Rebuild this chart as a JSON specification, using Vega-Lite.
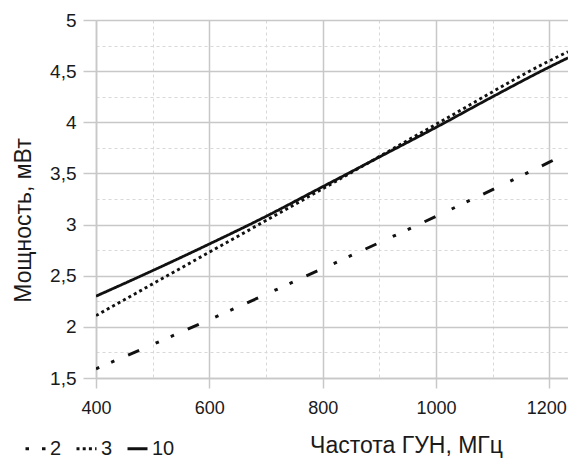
{
  "$schema": "https://vega.github.io/schema/vega-lite/v6.json",
  "width": 472,
  "height": 358,
  "autosize": {"type": "none"},
  "padding": {"left": 96, "top": 20, "right": 0, "bottom": 81},
  "background": "white",
  "config": {
    "view": {"stroke": null},
    "font": "Liberation Sans",
    "axis": {"labelFont": "Liberation Sans", "titleFont": "Liberation Sans"},
    "legend": {"labelFont": "Liberation Sans"}
  },
  "data": {
    "values": [
      {"s": "2", "f": 400, "p": 1.59},
      {"s": "2", "f": 600, "p": 2.07},
      {"s": "2", "f": 800, "p": 2.57},
      {"s": "2", "f": 1000, "p": 3.08},
      {"s": "2", "f": 1200, "p": 3.61},
      {"s": "2", "f": 1233, "p": 3.70},
      {"s": "3", "f": 400, "p": 2.11},
      {"s": "3", "f": 600, "p": 2.73},
      {"s": "3", "f": 800, "p": 3.35},
      {"s": "3", "f": 1000, "p": 3.98},
      {"s": "3", "f": 1200, "p": 4.60},
      {"s": "3", "f": 1233, "p": 4.69},
      {"s": "10", "f": 400, "p": 2.30},
      {"s": "10", "f": 500, "p": 2.55},
      {"s": "10", "f": 600, "p": 2.81},
      {"s": "10", "f": 700, "p": 3.08},
      {"s": "10", "f": 800, "p": 3.37},
      {"s": "10", "f": 900, "p": 3.66},
      {"s": "10", "f": 1000, "p": 3.95},
      {"s": "10", "f": 1100, "p": 4.25},
      {"s": "10", "f": 1200, "p": 4.54},
      {"s": "10", "f": 1233, "p": 4.63}
    ]
  },
  "mark": {"type": "line", "clip": true, "interpolate": "monotone"},
  "encoding": {
    "x": {
      "field": "f", "type": "quantitative",
      "scale": {"domain": [400, 1233], "nice": false, "zero": false},
      "axis": {
        "values": [400, 500, 600, 700, 800, 900, 1000, 1100, 1200],
        "labelExpr": "datum.value % 200 !== 0 ? '' : toString(datum.value)",
        "labelFlush": false,
        "labelOverlap": false,
        "labelFontSize": 18,
        "labelColor": "#1a1a1a",
        "labelPadding": 11,
        "labelOffset": {"condition": {"test": "datum.value === 1200", "value": -3}, "value": 0},
        "domainColor": "#c8c8c8",
        "domainWidth": 1.5,
        "tickColor": "#c8c8c8",
        "tickWidth": 1.5,
        "tickSize": {"condition": {"test": "datum.value % 200 !== 0", "value": 0}, "value": 10},
        "gridColor": {"condition": {"test": "datum.value % 200 !== 0", "value": "#d8d8d8"}, "value": "#c8c8c8"},
        "gridWidth": {"condition": {"test": "datum.value % 200 !== 0", "value": 1}, "value": 1.5},
        "gridDash": {"condition": {"test": "datum.value % 200 !== 0", "value": [3, 3]}, "value": []},
        "title": "Частота ГУН, МГц",
        "titleFontSize": 23,
        "titleFontWeight": "normal",
        "titleColor": "#1a1a1a",
        "titleX": 310,
        "titleY": 67,
        "titleAlign": "center",
        "titleBaseline": "middle"
      }
    },
    "y": {
      "field": "p", "type": "quantitative",
      "scale": {"domain": [1.5, 5], "nice": false, "zero": false},
      "axis": {
        "values": [1.5, 1.75, 2, 2.25, 2.5, 2.75, 3, 3.25, 3.5, 3.75, 4, 4.25, 4.5, 4.75, 5],
        "labelExpr": "datum.value % 0.5 !== 0 ? '' : replace(toString(datum.value), '.', ',')",
        "labelFontSize": 19,
        "labelColor": "#1a1a1a",
        "labelPadding": 7,
        "domainColor": "#c8c8c8",
        "domainWidth": 1.5,
        "tickColor": "#c8c8c8",
        "tickWidth": 1.5,
        "tickSize": {"condition": {"test": "datum.value % 0.5 !== 0", "value": 0}, "value": 13},
        "gridColor": {"condition": {"test": "datum.value % 0.5 !== 0", "value": "#d8d8d8"}, "value": "#c8c8c8"},
        "gridWidth": {"condition": {"test": "datum.value % 0.5 !== 0", "value": 1}, "value": 1.5},
        "gridDash": {"condition": {"test": "datum.value % 0.5 !== 0", "value": [3, 3]}, "value": []},
        "title": "Мощность, мВт",
        "titleFontSize": 23,
        "titleFontWeight": "normal",
        "titleColor": "#1a1a1a",
        "titleX": -73,
        "titleY": 200,
        "titleAlign": "center",
        "titleBaseline": "middle"
      }
    },
    "color": {
      "field": "s", "type": "nominal",
      "scale": {"domain": ["2", "3", "10"], "range": ["#111", "#111", "#111"]},
      "legend": {
        "title": null,
        "orient": "none",
        "legendX": -72,
        "legendY": 417,
        "direction": "horizontal",
        "symbolType": "stroke",
        "symbolSize": 400,
        "symbolStrokeWidth": 3,
        "labelFontSize": 20,
        "labelColor": "#1a1a1a",
        "labelOffset": 3,
        "columnPadding": 8
      }
    },
    "strokeDash": {
      "field": "s", "type": "nominal",
      "scale": {"domain": ["2", "3", "10"], "range": [[3.5, 13, 3.5, 15, 12, 18], [3, 3.2], [1, 0]]},
      "legend": {
        "title": null,
        "orient": "none",
        "legendX": -72,
        "legendY": 417,
        "direction": "horizontal",
        "symbolType": "stroke",
        "symbolSize": 400,
        "symbolStrokeWidth": 3,
        "labelFontSize": 20,
        "labelColor": "#1a1a1a",
        "labelOffset": 3,
        "columnPadding": 8
      }
    },
    "strokeWidth": {
      "field": "s", "type": "nominal",
      "scale": {"domain": ["2", "3", "10"], "range": [3, 2.8, 2.6]},
      "legend": null
    }
  }
}
